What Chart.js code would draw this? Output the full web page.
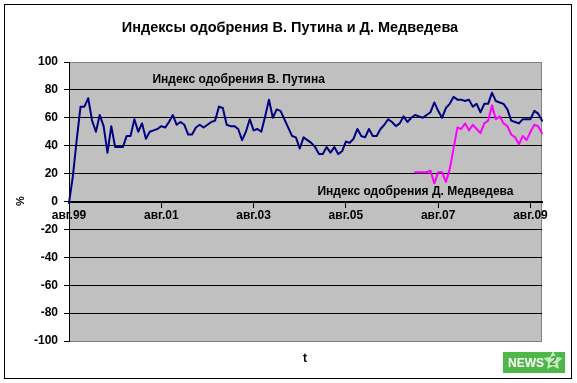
<!DOCTYPE html>
<html>
<head>
<meta charset="utf-8">
<script src="https://cdn.jsdelivr.net/npm/chart.js@4/dist/chart.umd.min.js"></script>
<style>
  html, body { margin: 0; padding: 0; background: #ffffff; }
  #wrap { width: 577px; height: 383px; position: relative; }
</style>
</head>
<body>
<div id="wrap"><canvas id="c" width="577" height="383"></canvas></div>
<script>
// ---------- DATA ----------
const monthNames = ['янв','фев','мар','апр','май','июн','июл','авг','сен','окт','ноя','дек'];
const firstMonth = 7;      // август
const firstYear = 1999;
const monthCount = 124;    // авг.99 … ноя.09

const putin = [
  -1, 18, 44, 68, 68, 74, 58, 50, 62, 54,
  35, 54, 39, 39, 39, 47, 47, 59, 50, 56,
  45, 50, 51, 52, 54, 53, 57, 62, 55, 57,
  55, 48, 48, 53, 55, 53, 55, 57, 58, 68,
  67, 55, 54, 54, 52, 44, 50, 59, 51, 52,
  50, 61, 73, 60, 66, 65, 59, 53, 47, 46,
  38, 46, 44, 42, 39, 34, 34, 39, 35, 39,
  34, 36, 43, 42, 45, 52, 47, 46, 52, 47,
  47, 52, 55, 59, 57, 54, 56, 61, 57, 60,
  62, 61, 60, 62, 64, 71, 65, 60, 67, 70,
  75, 73, 73, 72, 73, 68, 70, 64, 70, 70,
  78, 72, 71, 70, 66, 58, 57, 56, 59, 59,
  59, 65, 63, 58
];

const medvedevFrom = 'фев.07';
const medvedev = [
  21, 21, 21, 21, 22, 13, 21, 21, 14, 23,
  38, 53, 52, 56, 51, 55, 52, 49, 56, 58,
  69, 59, 61, 56, 54, 48, 46, 41, 47, 44,
  50, 55, 54, 49
];

const yTicks = [-100, -80, -60, -40, -20, 0, 20, 40, 60, 80, 100];
const xTickLabels = ['авг.99', 'авг.01', 'авг.03', 'авг.05', 'авг.07', 'авг.09'];

const titleText = 'Индексы одобрения В. Путина и Д. Медведева';
const putinLabel = 'Индекс одобрения В. Путина';
const medvedevLabel = 'Индекс одобрения Д. Медведева';
const yTitle = '%';
const xTitle = 't';

// ---------- build categories ----------
const categories = [];
for (let i = 0; i < monthCount; i++) {
  const m = (firstMonth + i) % 12;
  const y = firstYear + Math.floor((firstMonth + i) / 12);
  categories.push(monthNames[m] + '.' + String(y % 100).padStart(2, '0'));
}
const medStartIdx = categories.indexOf(medvedevFrom);
const medvedevData = medvedev.map((v, i) => ({ x: categories[medStartIdx + i], y: v }));
const putinData = putin.map((v, i) => ({ x: categories[i], y: v }));

const FONT = '"Liberation Sans", Arial, sans-serif';

// ---------- plugins ----------
const decor = {
  id: 'decor',
  beforeDraw(chart) {
    const { ctx, chartArea: a } = chart;
    ctx.save();
    ctx.fillStyle = '#ffffff';
    ctx.fillRect(0, 0, chart.width, chart.height);
    ctx.strokeStyle = '#000000';
    ctx.lineWidth = 1;
    ctx.strokeRect(4.5, 4.5, 567, 374);
    ctx.fillStyle = '#C0C0C0';
    ctx.fillRect(a.left, a.top, a.right - a.left, a.bottom - a.top);
    ctx.strokeStyle = '#808080';
    ctx.lineWidth = 1;
    ctx.strokeRect(a.left + 0.5, a.top + 0.5, a.right - a.left - 1, a.bottom - a.top);
    ctx.restore();
  },
  afterDraw(chart) {
    const { ctx, scales } = chart;
    const xs = scales.x, ys = scales.y;
    ctx.save();
    ctx.fillStyle = '#000000';
    ctx.textBaseline = 'middle';
    // title
    ctx.font = 'bold 14.5px ' + FONT;
    ctx.textAlign = 'center';
    ctx.fillText(titleText, 290, 28);
    // series labels (anchored to data space)
    ctx.font = 'bold 12px ' + FONT;
    ctx.textAlign = 'left';
    ctx.fillText(putinLabel, xs.getPixelForValue(21.7), ys.getPixelForValue(87));
    ctx.fillText(medvedevLabel, xs.getPixelForValue(64.6), ys.getPixelForValue(7));
    // axis titles
    ctx.textAlign = 'center';
    ctx.fillText(xTitle, 305, 359);
    ctx.save();
    ctx.translate(21, 201);
    ctx.rotate(-Math.PI / 2);
    ctx.font = 'bold 11px ' + FONT;
    ctx.fillText(yTitle, 0, 0);
    ctx.restore();
    // NEWS badge
    const bx = 503, by = 352, bw = 62, bh = 21;
    ctx.fillStyle = '#4DB847';
    ctx.fillRect(bx, by, bw, bh);
    ctx.fillStyle = '#ffffff';
    ctx.font = 'bold 12px ' + FONT;
    ctx.textAlign = 'left';
    ctx.fillText('NEWS', bx + 5, by + bh / 2 + 1);
    ctx.fillStyle = '#C9EBC4';
    ctx.beginPath();
    const cx = bx + 50, cy = by + 9;
    for (let k = 0; k < 10; k++) {
      const r = k % 2 === 0 ? 10 : 5;
      const ang = -Math.PI / 2 + k * Math.PI / 5;
      const px = cx + r * Math.cos(ang), py = cy + r * Math.sin(ang);
      if (k === 0) ctx.moveTo(px, py); else ctx.lineTo(px, py);
    }
    ctx.closePath();
    ctx.fill();
    ctx.fillStyle = '#3A9E35';
    ctx.font = 'italic bold 12px ' + FONT;
    ctx.textAlign = 'center';
    ctx.fillText('2', cx, cy + 1);
    ctx.restore();
  }
};

// ---------- chart ----------
new Chart(document.getElementById('c'), {
  type: 'line',
  data: {
    labels: categories,
    datasets: [
      {
        label: putinLabel,
        data: putinData,
        borderColor: '#000080',
        borderWidth: 2,
        pointRadius: 0,
        tension: 0,
        fill: false,
        borderJoinStyle: 'round',
        borderCapStyle: 'round'
      },
      {
        label: medvedevLabel,
        data: medvedevData,
        borderColor: '#FF00FF',
        borderWidth: 2,
        pointRadius: 0,
        tension: 0,
        fill: false,
        spanGaps: false,
        borderJoinStyle: 'round',
        borderCapStyle: 'round'
      }
    ]
  },
  options: {
    responsive: false,
    animation: false,
    devicePixelRatio: 1,
    layout: { padding: { left: 0, right: 35, top: 62, bottom: 42 } },
    plugins: {
      legend: { display: false },
      title: { display: false },
      tooltip: { enabled: false }
    },
    scales: {
      x: {
        type: 'category',
        position: { y: 0 },
        offset: false,
        border: { display: true, color: '#000000', width: 2 },
        grid: {
          display: true,
          drawOnChartArea: false,
          drawTicks: true,
          tickLength: 5,
          tickColor: '#000000',
          tickWidth: 1
        },
        afterBuildTicks(scale) {
          scale.ticks = scale.ticks.filter(t => xTickLabels.includes(categories[t.value]));
        },
        ticks: {
          autoSkip: false,
          maxRotation: 0,
          minRotation: 0,
          padding: 2,
          color: '#000000',
          font: { family: FONT, size: 12, weight: 'bold' },
          callback: (v) => categories[v]
        }
      },
      y: {
        min: -100,
        max: 100,
        afterBuildTicks(scale) {
          scale.ticks = yTicks.map(v => ({ value: v }));
        },
        afterFit(scale) { scale.width = 69; },
        border: { display: true, color: '#000000', width: 1 },
        grid: {
          color: (c) => (c.tick && (c.tick.value === 100 || c.tick.value === -100)) ? 'rgba(0,0,0,0)' : '#000000',
          lineWidth: 1,
          tickColor: '#000000',
          tickLength: 5,
          drawTicks: true
        },
        ticks: {
          padding: 6,
          color: '#000000',
          font: { family: FONT, size: 12, weight: 'bold' }
        }
      }
    }
  },
  plugins: [decor]
});
</script>
</body>
</html>
